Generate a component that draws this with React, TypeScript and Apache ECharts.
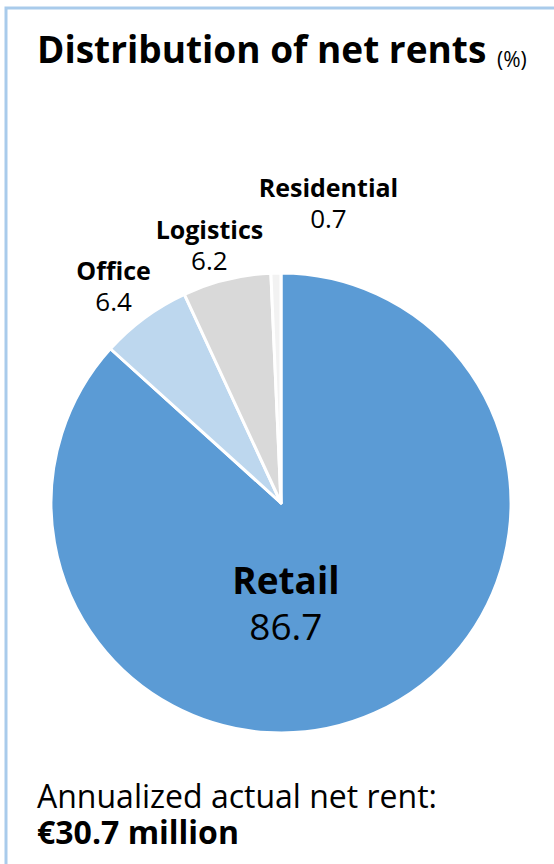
import React, { useEffect, useRef } from "react";
import * as echarts from "echarts";

const categories = ["Retail", "Office", "Logistics", "Residential"];
const values = [86.7, 6.4, 6.2, 0.7];
const colors = ["#5b9bd5", "#bdd7ee", "#d9d9d9", "#f2f2f2"];
const titleText = "Distribution of net rents";
const unitText = "(%)";
const footerLine1 = "Annualized actual net rent:";
const footerLine2 = "€30.7 million";

const FONT = "'Open Sans', 'Noto Sans', sans-serif";
const labelOffsets: number[][] = [[-43, -8], [-13, -15], [-7, -14], [58, -49]];

export default function App() {
  const ref = useRef<HTMLDivElement>(null);
  useEffect(() => {
    document.body.style.margin = "0";
    const chart = echarts.init(ref.current!, null, { renderer: "svg" });
    const data = categories.map((name, i) => {
      const item: any = {
        name,
        value: values[i],
        itemStyle: { color: colors[i] },
        label: { offset: labelOffsets[i] },
      };
      if (i === 0) {
        item.label = {
          position: "inside",
          offset: labelOffsets[i],
          formatter: "{n|{b}}\n{v|{c}}",
          rich: {
            n: { fontFamily: FONT, fontSize: 37, fontWeight: "bold", color: "#000", lineHeight: 46, align: "center" },
            v: { fontFamily: FONT, fontSize: 37, color: "#000", lineHeight: 46, align: "center" },
          },
        };
      }
      return item;
    });
    chart.setOption({
      animation: false,
      graphic: [
        {
          type: "rect",
          shape: { x: 6, y: 8, width: 600, height: 900 },
          style: { fill: "none", stroke: "#a9cbeb", lineWidth: 3 },
        },
        {
          type: "text",
          left: 37,
          top: 30,
          style: { text: titleText, font: `bold 37px ${FONT}`, fill: "#000" },
        },
        {
          type: "text",
          left: 497,
          top: 48,
          style: { text: unitText, font: `21px ${FONT}`, fill: "#000" },
        },
        {
          type: "text",
          left: 37,
          top: 779,
          style: {
            text: `{a|${footerLine1}}\n{b|${footerLine2}}`,
            rich: {
              a: { fontFamily: FONT, fontSize: 32, color: "#000", lineHeight: 36 },
              b: { fontFamily: FONT, fontSize: 32, fontWeight: "bold", color: "#000", lineHeight: 36 },
            },
          },
        },
      ],
      series: [
        {
          type: "pie",
          center: [281, 503],
          radius: 230,
          startAngle: 90,
          clockwise: true,
          avoidLabelOverlap: false,
          data,
          itemStyle: { borderColor: "#fff", borderWidth: 3 },
          labelLine: { show: false, length: 22, length2: 0 },
          labelLayout: (params: any) => (params.dataIndex === 0 ? {} : { align: "center", verticalAlign: "middle" }),
          label: {
            show: true,
            position: "outside",
            alignTo: "none",
            formatter: "{n|{b}}\n{v|{c}}",
            rich: {
              n: { fontFamily: FONT, fontSize: 25, fontWeight: "bold", color: "#000", lineHeight: 31, align: "center" },
              v: { fontFamily: FONT, fontSize: 26, color: "#000", lineHeight: 31, align: "center" },
            },
          },
        },
      ],
    });
    return () => chart.dispose();
  }, []);
  return <div ref={ref} style={{ width: 554, height: 864 }} />;
}
